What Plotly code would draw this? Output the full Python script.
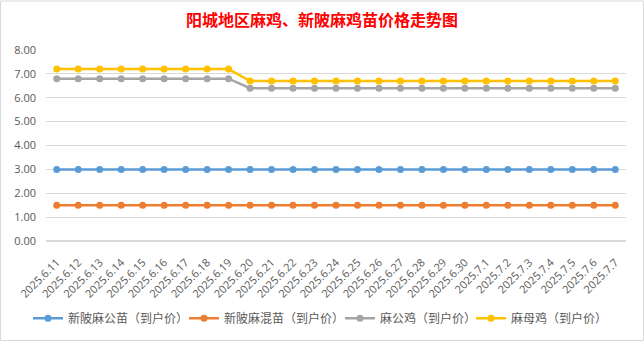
import plotly.graph_objects as go

dates = ["2025.6.11","2025.6.12","2025.6.13","2025.6.14","2025.6.15","2025.6.16","2025.6.17",
         "2025.6.18","2025.6.19","2025.6.20","2025.6.21","2025.6.22","2025.6.23","2025.6.24",
         "2025.6.25","2025.6.26","2025.6.27","2025.6.28","2025.6.29","2025.6.30","2025.7.1",
         "2025.7.2","2025.7.3","2025.7.4","2025.7.5","2025.7.6","2025.7.7"]

xinling_gong = [3.0]*27
xinling_hun = [1.5]*27
ma_gongji = [6.8]*9 + [6.4]*18
ma_muji = [7.2]*9 + [6.7]*18

names = ["新陂麻公苗（到户价）", "新陂麻混苗（到户价）", "麻公鸡（到户价）", "麻母鸡（到户价）"]
series = [xinling_gong, xinling_hun, ma_gongji, ma_muji]
colors = ["#5B9BD5", "#ED7D31", "#A5A5A5", "#FFC000"]

W, H = 644 - 46 - 18, 344 - 50 - 101
legend_text_x = [68, 224, 380, 511]
legend_ids = ["legend", "legend2", "legend3", "legend4"]

fig = go.Figure()
for n, s, c, lid in zip(names, series, colors, legend_ids):
    fig.add_trace(go.Scatter(x=dates, y=s, name=n, mode="lines+markers",
                             line=dict(color=c, width=2.5),
                             marker=dict(color=c, size=7), legend=lid))

layout_legends = {}
for lid, tx in zip(legend_ids, legend_text_x):
    layout_legends[lid] = dict(orientation="h", x=(tx - 40 - 46)/W, xanchor="left",
                               y=(243 - 321)/H, yanchor="middle",
                               font=dict(size=12, color="#595959", family="Noto Sans CJK SC"),
                               itemwidth=30, bgcolor="rgba(0,0,0,0)")

fig.update_layout(
    width=644, height=344,
    margin=dict(l=46, r=18, t=50, b=101),
    paper_bgcolor="white", plot_bgcolor="white",
    title=dict(text="阳城地区麻鸡、新陂麻鸡苗价格走势图", x=0.5, xanchor="center",
               y=1 - 20/344, yanchor="middle",
               font=dict(family="Noto Sans CJK SC", size=16, color="#FF0000", weight="bold")),
    font=dict(family="Noto Sans CJK SC", color="#595959"),
    xaxis=dict(type="category", tickangle=-45, showgrid=False,
               tickfont=dict(size=11, color="#595959", family="Open Sans"),
               showline=False, ticks="", range=[-0.5, 26.5], ticklabelstandoff=12),
    yaxis=dict(range=[0, 8], dtick=1, tickformat=".2f", showgrid=True,
               gridcolor="#D9D9D9", gridwidth=1, zeroline=True, zerolinecolor="#D9D9D9",
               tickfont=dict(size=11, color="#595959", family="Open Sans"), ticks="",
               showline=False, ticklabelstandoff=9),
    showlegend=True,
    **layout_legends,
)
fig.add_shape(type="rect", xref="paper", yref="paper",
              x0=(-46 + 0.5)/W, x1=(644 - 46 - 0.5)/W,
              y0=(-101 + 0.5)/H, y1=(H + 50 - 0.5)/H,
              line=dict(color="#D9D9D9", width=1), fillcolor="rgba(0,0,0,0)", layer="below")

fig.write_html("out.html")
